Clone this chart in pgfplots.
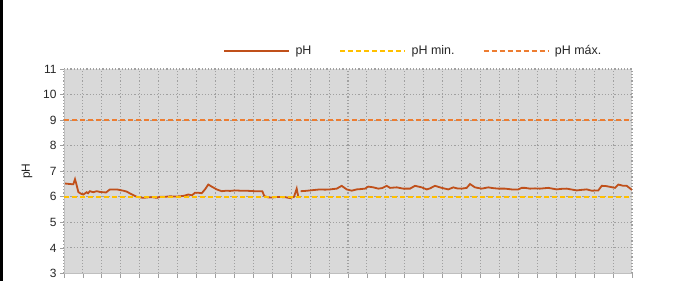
\documentclass[border=0pt]{standalone}
\usepackage{fontspec}
\setmainfont{Liberation Sans}
\usepackage{pgfplots}
\pgfplotsset{compat=1.18}
\definecolor{phline}{HTML}{C0501A}
\definecolor{phmin}{HTML}{FFC000}
\definecolor{phmax}{HTML}{ED7D31}
\definecolor{plotbg}{HTML}{D9D9D9}
\definecolor{gridc}{HTML}{A0A0A0}
\definecolor{axisc}{HTML}{BFBFBF}
\definecolor{txt}{HTML}{262626}
\begin{document}
\begin{tikzpicture}
\useasboundingbox (0,0) rectangle (680bp,-281bp);
\fill[black] (0,0) rectangle (3.3bp,-281bp);
\begin{axis}[
  at={(64bp,-273.5bp)}, anchor=south west,
  scale only axis, width=568bp, height=204.5bp,
  xmin=64, xmax=632, ymin=3, ymax=11,
  xtick={64,82.93,101.87,120.8,139.73,158.67,177.6,196.53,215.47,234.4,253.33,272.27,291.2,310.13,329.07,348,366.93,385.87,404.8,423.73,442.67,461.6,480.53,499.47,518.4,537.33,556.27,575.2,594.13,613.07,632},
  xticklabels={},
  ytick={3,4,5,6,7,8,9,10,11},
  axis x line=bottom, axis y line=left,
  axis line style={axisc, line width=0.8bp, -},
  tick align=outside, major tick length=4bp,
  tick style={gridc, line width=0.8bp},
  grid=major,
  major grid style={gridc, line width=1.1bp, dash pattern=on 1.2bp off 2bp},
  axis background/.style={fill=plotbg},
  /pgf/number format/assume math mode=true,
  tick label style={font=\fontsize{12}{13}\selectfont, text=txt},
  ylabel={pH},
  ylabel style={at={(axis description cs:-0.065,0.5)}, anchor=center, font=\fontsize{12}{13}\selectfont, text=txt},
  unbounded coords=jump,
  legend columns=3,
  legend style={at={(axis description cs:0.280,1.088)}, anchor=west, draw=none, fill=none, inner sep=0pt,
    font=\fontsize{12.5}{14}\selectfont, text=txt,
    /tikz/every odd column/.append style={column sep=3.5bp},
    /tikz/every even column/.append style={column sep=26bp}},
  legend cell align=left,
  legend image code/.code={\draw[#1] (0bp,0bp) -- (65bp,0bp);},
  clip=true,
]
\addplot[phline, line width=1.8bp] coordinates {
(65,6.52) (70,6.50) (73.3,6.49) (75,6.69) (76.7,6.45) (78.3,6.19) (81,6.12) (83.3,6.09) (86.7,6.18) (88,6.14) (90,6.22) (93.3,6.18) (96.7,6.22) (100,6.19) (103.3,6.18) (106,6.17) (110,6.29) (116.7,6.29) (123.3,6.24) (127,6.20) (130,6.13) (136.7,6.00) (143.3,5.96) (148,5.98) (153.3,5.98) (157,5.96) (160,6.00) (165,6.00) (170,6.02) (175,6.01) (180,6.02) (184,6.04) (188.3,6.09) (192,6.06) (195,6.16) (198,6.16) (201.7,6.14) (205,6.29) (208.3,6.48) (211.7,6.40) (216.7,6.29) (221.7,6.22) (226.7,6.24) (230,6.23) (235,6.25) (240,6.24) (245,6.24) (250,6.23) (255,6.22) (262.3,6.22) (264.3,6.03) (268,5.98) (271.7,5.97) (276,5.99) (281.7,5.99) (286,5.98) (290,5.95) (294,6.00) (296.7,6.32) (298.3,6.00)
(299.5,nan)
(300.7,6.22) (305,6.23) (310,6.25) (315,6.27) (320,6.29) (325,6.28) (330,6.29) (336.7,6.32) (341.7,6.43) (346.7,6.29) (351.7,6.24) (356.7,6.29) (360,6.30) (365,6.32) (368.3,6.40) (373.3,6.37) (378.3,6.32) (382,6.34) (386.7,6.43) (390,6.35) (396.7,6.37) (403.3,6.32) (410,6.32) (415,6.43) (421.7,6.37) (426.7,6.29) (430,6.33) (435,6.43) (441.7,6.35) (448.3,6.29) (453.3,6.37) (457,6.33) (461.7,6.32) (466.7,6.35) (470,6.50) (475,6.37) (481.7,6.32) (488.3,6.37) (493,6.34) (498.3,6.32) (505,6.32) (511.7,6.29) (518.3,6.29) (521.7,6.35) (525,6.35) (530,6.32) (535,6.33) (540,6.32) (548.3,6.35) (556.7,6.29) (561,6.31) (566.7,6.32) (571,6.29) (576.7,6.25) (581,6.27) (586.7,6.29) (591.7,6.24) (598.3,6.25) (601.7,6.43) (606,6.42) (610,6.39) (615,6.35) (618.3,6.48) (623.3,6.43) (626.7,6.43) (629,6.36) (632,6.27)
};
\addlegendentry{pH}
\addplot[phmin, line width=1.8bp, dash pattern=on 5bp off 3bp] coordinates {(64,6) (632,6)};
\addlegendentry{pH min.}
\addplot[phmax, line width=1.8bp, dash pattern=on 5bp off 3bp] coordinates {(64,9) (632,9)};
\addlegendentry{pH máx.}
\end{axis}
\end{tikzpicture}
\end{document}
